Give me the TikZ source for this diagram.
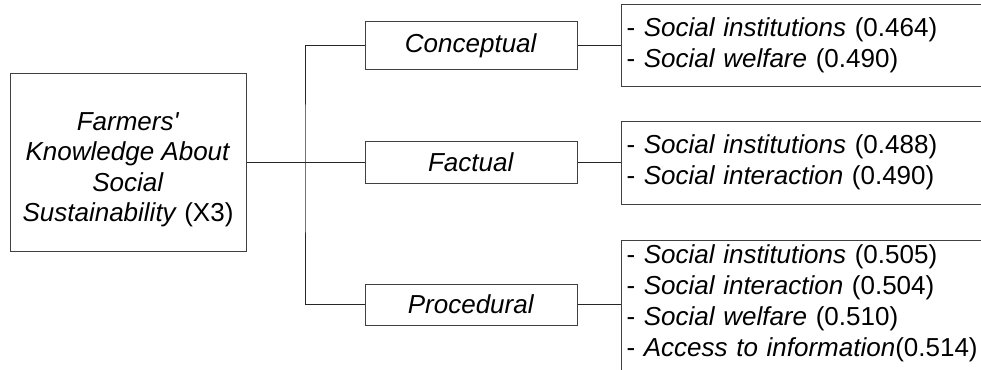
\documentclass[tikz,border=0pt]{standalone}
\usepackage{fontspec}
\setmainfont{Liberation Sans}
\usetikzlibrary{calc}

\begin{document}
\begin{tikzpicture}[x=1pt,y=-1pt,
  box/.style={draw=black!75, line width=1pt},
  link/.style={draw=black!85, line width=1pt},
  itembox/.style={box, text width=408, align=left, inner xsep=5, font=\fontsize{26}{31}\selectfont}]
\useasboundingbox (0,0) rectangle (981,369);
\clip (0,0) rectangle (981,369);
\fontsize{26}{31}\selectfont
% main variable
\node[box, minimum width=236, minimum height=178, align=center, font=\fontsize{26}{30.5}\selectfont] (main) at (128,162) {\rule{0pt}{33pt}\textit{Farmers\textquotesingle}\\ \textit{Knowledge About}\\ \textit{Social}\\ \textit{Sustainability} (X3)};
% the three kinds of knowledge
\node[box, minimum width=212, minimum height=47] (concept) at (471,45.5) {\textit{Conceptual}};
\node[box, minimum width=212, minimum height=42] (fact) at (471,162) {\textit{Factual}};
\node[box, minimum width=212, minimum height=41] (proc) at (471,304.5) {\textit{Procedural}};
% indicators, boxes run past the right edge
\node[itembox, anchor=west, minimum height=81] (r1) at (621,45.5) {- \textit{Social institutions} (0.464)\\- \textit{Social welfare} (0.490)};
\node[itembox, anchor=west, minimum height=83] (r2) at (621,162.5) {- \textit{Social institutions} (0.488)\\- \textit{Social interaction} (0.490)};
\node[itembox, anchor=north west, inner ysep=4] (r3) at (621,240) {- \textit{Social institutions} (0.505)\\- \textit{Social interaction} (0.504)\\- \textit{Social welfare} (0.510)\\- \textit{Access to information}(0.514)\rule[-40pt]{0pt}{0pt}};
% connectors
\coordinate (jn) at (305,162);
\draw[link] (main.east) -- (jn);
\draw[link] (concept.west) -| (jn) |- (proc.west);
\draw[link] (jn) -- (fact.west);
\draw[link] (concept.east) -- (concept.east -| r1.west);
\draw[link] (fact.east) -- (fact.east -| r2.west);
\draw[link] (proc.east) -- (proc.east -| r3.west);
\end{tikzpicture}
\end{document}
